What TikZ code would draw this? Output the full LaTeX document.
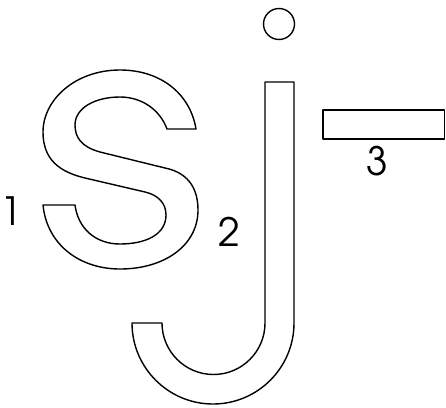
\documentclass[tikz,border=0pt]{standalone}
\usepackage{fontspec}
\newfontfamily\labelfont{TeX Gyre Adventor}

\begin{document}
\begin{tikzpicture}[x=1pt, y=-1pt, line width=1.4pt, line cap=round, line join=round]

  %% ════ outline of the S ════
  \draw (196,129) .. controls (190,93) and (160,70) .. (120,70)
        .. controls (75,70) and (43,100) .. (43,132)
        .. controls (43,160) and (60,172) .. (85,178)
        -- (145,192)
        .. controls (158,195) and (166,203) .. (166,215)
        .. controls (166,235) and (145,244) .. (120,244)
        .. controls (95,244) and (78,228) .. (75,205)
        -- (43,205)
        .. controls (47,245) and (80,269) .. (120,269)
        .. controls (165,269) and (198,245) .. (198,210)
        .. controls (198,185) and (185,172) .. (165,168)
        -- (100,152)
        .. controls (82,147) and (75,138) .. (75,125)
        .. controls (75,108) and (95,97) .. (120,97)
        .. controls (142,97) and (160,110) .. (167,129)
        -- cycle;

  %% ════ outline of the j ════
  \draw (265,82) -- (294,82) -- (294,323)
        .. controls (294,367.7) and (257.7,404) .. (213,404)
        .. controls (168.3,404) and (132,367.7) .. (132,323)
        -- (162,323)
        .. controls (162,351.4) and (185.1,374.5) .. (213.5,374.5)
        .. controls (241.9,374.5) and (265,351.4) .. (265,323)
        -- cycle;
  \draw (279,24) circle (15.5);   % dot

  %% ════ bar ════
  \draw (323,110) rectangle (444.5,139);

  %% ════ labels ════
  \node[anchor=center, inner sep=0pt, font=\labelfont\fontsize{39}{46}\selectfont] (n1) at (11,211) {1};
  \node[anchor=center, inner sep=0pt, font=\labelfont\fontsize{39}{46}\selectfont] (n2) at (229.5,231.5) {2};
  \node[anchor=center, inner sep=0pt, font=\labelfont\fontsize{39}{46}\selectfont] (n3) at (377,161.5) {3};

  \pgfresetboundingbox
  \path[use as bounding box] (0,0) rectangle (446,407);
\end{tikzpicture}
\end{document}
